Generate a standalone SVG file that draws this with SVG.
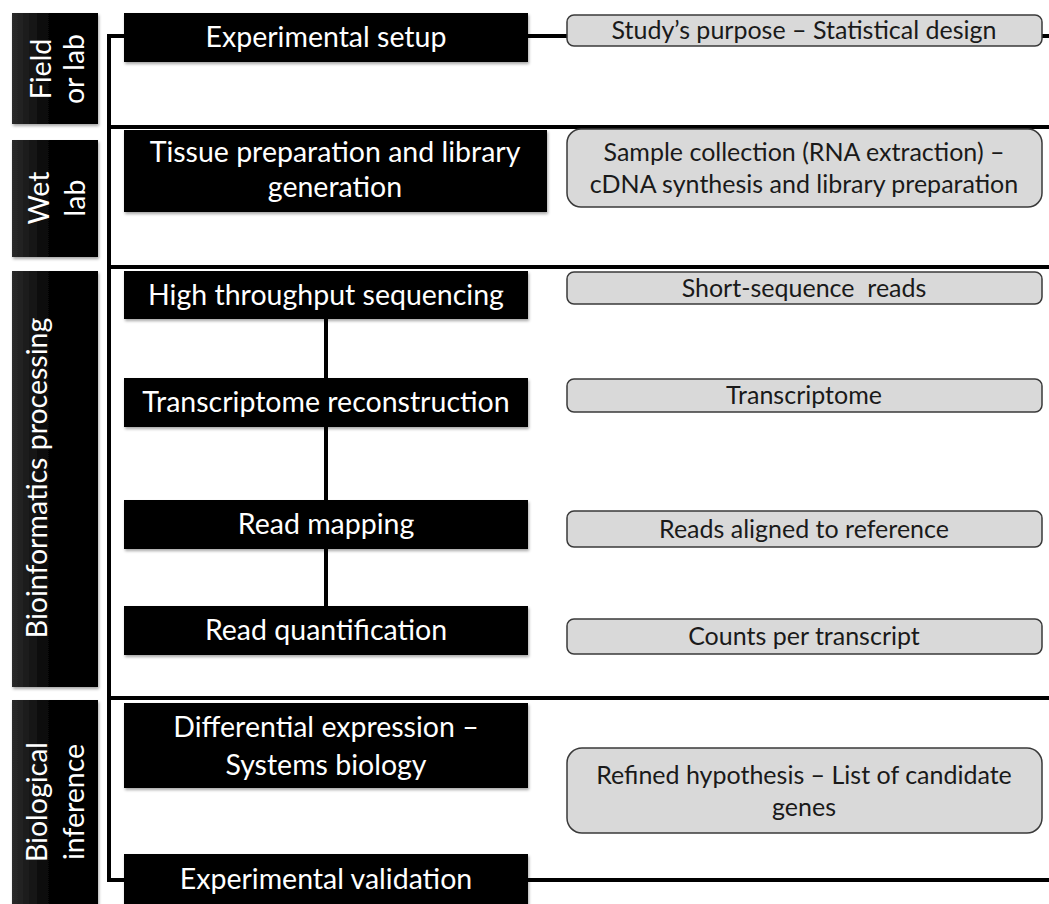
<svg xmlns="http://www.w3.org/2000/svg" width="1049" height="904" viewBox="0 0 1049 904">
<defs>
<linearGradient id="lg" x1="0" y1="0" x2="1" y2="0">
<stop offset="0" stop-color="#2a2a2a"/>
<stop offset="0.5" stop-color="#000"/>
<stop offset="1" stop-color="#000"/>
</linearGradient>
<filter id="sh" x="-5%" y="-10%" width="110%" height="130%">
<feDropShadow dx="1" dy="2" stdDeviation="1.5" flood-color="#000" flood-opacity="0.35"/>
</filter>
<style>
.lab{fill:url(#lg);filter:url(#sh)}
.blk{fill:#000;filter:url(#sh)}
.gry{fill:#d9d9d9;stroke:#3a3a3a;stroke-width:1.5}
.wt{fill:#fff;font-family:Lato,"Liberation Sans",sans-serif;font-size:28.5px;text-anchor:middle}
.gt{fill:#1a1a1a;font-family:Lato,"Liberation Sans",sans-serif;font-size:25px;text-anchor:middle}
.ln{stroke:#000;stroke-width:4;fill:none}
</style>
</defs>
<rect width="1049" height="904" fill="#fff"/>

<g id="connectors">
<path class="ln" d="M124 36 H109 V880 H124"/>
<path class="ln" d="M528 36 H567"/>
<path class="ln" d="M1042 36 H1049"/>
<path class="ln" d="M109 127 H1049"/>
<path class="ln" d="M109 267 H1049"/>
<path class="ln" d="M109 698 H1049"/>
<path class="ln" d="M528 880 H1049"/>
<path class="ln" d="M326 319 V378"/>
<path class="ln" d="M326 427 V500"/>
<path class="ln" d="M326 549 V606"/>
</g>

<g id="phase-field">
<rect class="lab" x="12" y="13" width="86" height="111"/>
<text class="wt" transform="translate(51,69) rotate(-90)">Field</text>
<text class="wt" transform="translate(84,69) rotate(-90)">or lab</text>
</g>
<g id="phase-wet">
<rect class="lab" x="12" y="140" width="86" height="117"/>
<text class="wt" transform="translate(49,198) rotate(-90)">Wet</text>
<text class="wt" transform="translate(85,198) rotate(-90)">lab</text>
</g>
<g id="phase-bioinf">
<rect class="lab" x="12" y="271" width="86" height="416"/>
<text class="wt" transform="translate(47,478) rotate(-90)">Bioinformatics processing</text>
</g>
<g id="phase-biol">
<rect class="lab" x="12" y="700" width="86" height="210"/>
<text class="wt" transform="translate(47,802) rotate(-90)">Biological</text>
<text class="wt" transform="translate(84,802) rotate(-90)">inference</text>
</g>

<g id="step-setup">
<rect class="blk" x="124" y="13" width="404" height="49"/>
<text class="wt" x="326" y="47">Experimental setup</text>
</g>
<g id="step-tissue">
<rect class="blk" x="124" y="130" width="423" height="82"/>
<text class="wt" x="335" y="162">Tissue preparation and library</text>
<text class="wt" x="335" y="197">generation</text>
</g>
<g id="step-hts">
<rect class="blk" x="124" y="271" width="404" height="48"/>
<text class="wt" x="326" y="305">High throughput sequencing</text>
</g>
<g id="step-transcriptome">
<rect class="blk" x="124" y="378" width="404" height="49"/>
<text class="wt" x="326" y="412">Transcriptome reconstruction</text>
</g>
<g id="step-mapping">
<rect class="blk" x="124" y="500" width="404" height="49"/>
<text class="wt" x="326" y="534">Read mapping</text>
</g>
<g id="step-quant">
<rect class="blk" x="124" y="606" width="404" height="49"/>
<text class="wt" x="326" y="640">Read quantification</text>
</g>
<g id="step-de">
<rect class="blk" x="124" y="703" width="404" height="85"/>
<text class="wt" x="326" y="737">Differential expression –</text>
<text class="wt" x="326" y="775">Systems biology</text>
</g>
<g id="step-validation">
<rect class="blk" x="124" y="854" width="404" height="56"/>
<text class="wt" x="326" y="889">Experimental validation</text>
</g>

<g id="out-study">
<rect class="gry" x="567" y="15" width="475" height="31" rx="7"/>
<text class="gt" x="804" y="39">Study’s purpose – Statistical design</text>
</g>
<g id="out-sample">
<rect class="gry" x="567" y="129" width="475" height="78" rx="14"/>
<text class="gt" x="804" y="161">Sample collection (RNA extraction) –</text>
<text class="gt" x="804" y="193">cDNA synthesis and library preparation</text>
</g>
<g id="out-reads">
<rect class="gry" x="567" y="272" width="475" height="32" rx="7"/>
<text class="gt" x="804" y="297" xml:space="preserve" style="white-space:pre">Short-sequence  reads</text>
</g>
<g id="out-transcriptome">
<rect class="gry" x="567" y="379" width="475" height="33" rx="7"/>
<text class="gt" x="804" y="404">Transcriptome</text>
</g>
<g id="out-aligned">
<rect class="gry" x="567" y="511" width="475" height="36" rx="7"/>
<text class="gt" x="804" y="538">Reads aligned to reference</text>
</g>
<g id="out-counts">
<rect class="gry" x="567" y="619" width="475" height="35" rx="7"/>
<text class="gt" x="804" y="645">Counts per transcript</text>
</g>
<g id="out-hypothesis">
<rect class="gry" x="567" y="748" width="475" height="85" rx="15"/>
<text class="gt" x="804" y="784">Refined hypothesis – List of candidate</text>
<text class="gt" x="804" y="816">genes</text>
</g>
</svg>
